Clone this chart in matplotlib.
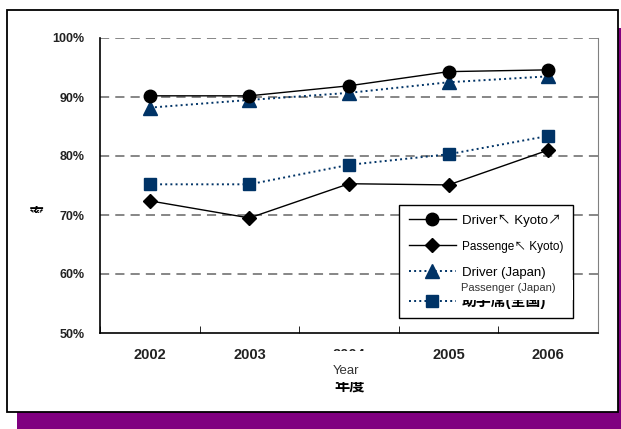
import numpy as np
import matplotlib.pyplot as plt
from matplotlib.patches import Rectangle

plt.rcParams['font.family'] = ['Liberation Sans', 'Noto Sans CJK JP', 'DejaVu Sans']

years = ['2002', '2003', '2004', '2005', '2006']
driver_kyoto = [90.2, 90.2, 91.9, 94.3, 94.6]
passenger_kyoto = [72.4, 69.5, 75.3, 75.1, 81.0]
driver_japan = [88.2, 89.5, 90.7, 92.5, 93.5]
passenger_japan = [75.2, 75.2, 78.5, 80.3, 83.4]
yticks = [50, 60, 70, 80, 90, 100]
labels = ['Driver\u2196 Kyoto\u2197', 'Passenge\u2196 Kyoto)', 'Driver (Japan)', '助手席(全国)']

W, H = 621, 429
def fx(x): return x / W
def fy(y): return 1 - y / H

fig = plt.figure(figsize=(W / 100, H / 100), dpi=100)
# purple drop shadow and white frame
fig.add_artist(Rectangle((fx(17), fy(445)), 640 / W, 417 / H, facecolor='#800080',
                         edgecolor='none', zorder=-3))
fig.add_artist(Rectangle((fx(7), fy(412)), 611 / W, 402 / H, facecolor='white',
                         edgecolor='black', lw=1.3, zorder=-2))

ax = fig.add_axes([fx(100), fy(333), 498 / W, 295 / H])
ax.set_facecolor('none')
x = np.arange(len(years))
navy = '#003366'
h1, = ax.plot(x, driver_kyoto, color='black', lw=1, marker='o', ms=9, zorder=4)
h2, = ax.plot(x, passenger_kyoto, color='black', lw=1, marker='D', ms=7, zorder=4)
h3, = ax.plot(x, driver_japan, color=navy, lw=1.4, ls=':', marker='^', ms=9.5, zorder=3)
h4, = ax.plot(x, passenger_japan, color=navy, lw=1.4, ls=':', marker='s', ms=8, zorder=3)

ax.set_xlim(-0.5, len(years) - 0.5)
ax.set_ylim(50, 100)
ax.set_yticks(yticks)
ax.set_yticklabels([f'{v}%' for v in yticks], fontsize=9, fontweight='bold', color='#222')
ax.set_xticks(x)
ax.set_xticklabels(years, fontsize=10.5, fontweight='bold', color='#222')
ax.set_xticks(np.arange(-0.5, len(years)), minor=True)
ax.tick_params(axis='y', length=0, pad=11)
ax.tick_params(axis='x', which='major', length=0, pad=11)
ax.tick_params(axis='x', which='minor', direction='in', length=5, color='black')

for v in yticks[1:]:
    ax.axhline(v, color='#666666', lw=1.1, ls=(0, (6, 4)), zorder=1)

ax.spines['top'].set_visible(False)
ax.spines['right'].set_color('#808080')
ax.spines['left'].set_linewidth(1.2)
ax.spines['bottom'].set_linewidth(1.2)

leg = ax.legend([h1, h2, h3, h4], labels, loc='upper left',
                bbox_to_anchor=((399 - 100) / 498, (333 - 205) / 295),
                borderaxespad=0, fancybox=False, framealpha=1, fontsize=9.5,
                handlelength=3.6, handletextpad=0.45, labelspacing=1.05,
                borderpad=0.72)
leg.get_frame().set_edgecolor('black')
leg.get_frame().set_linewidth(1)
leg.get_texts()[1].set_fontsize(8.5)
leg.get_texts()[3].set_fontsize(10.7)
leg.get_texts()[3].set_fontweight('bold')

# overlaid English captions on white patches
fig.add_artist(Rectangle((fx(456), fy(300)), 117 / W, 20 / H, facecolor='white',
                         edgecolor='none', zorder=5))
fig.text(fx(461), fy(288), 'Passenger (Japan)', fontsize=8, color='#333',
         va='center', ha='left', zorder=6)

fig.text(fx(350), fy(386), '年度', fontsize=11, fontweight='bold', ha='center',
         va='center', zorder=3)
fig.add_artist(Rectangle((fx(318), fy(382)), 64 / W, 31 / H, facecolor='white',
                         edgecolor='none', zorder=5))
fig.text(fx(346), fy(371), 'Year', fontsize=9.5, color='#333', ha='center',
         va='center', zorder=6)

fig.text(fx(36), fy(215), '率', fontsize=11, fontweight='bold', ha='center',
         va='center', zorder=3)
fig.add_artist(Rectangle((fx(24), fy(240)), 26 / W, 27 / H, facecolor='white',
                         edgecolor='none', zorder=5))

fig.savefig('out.png', dpi=100)
